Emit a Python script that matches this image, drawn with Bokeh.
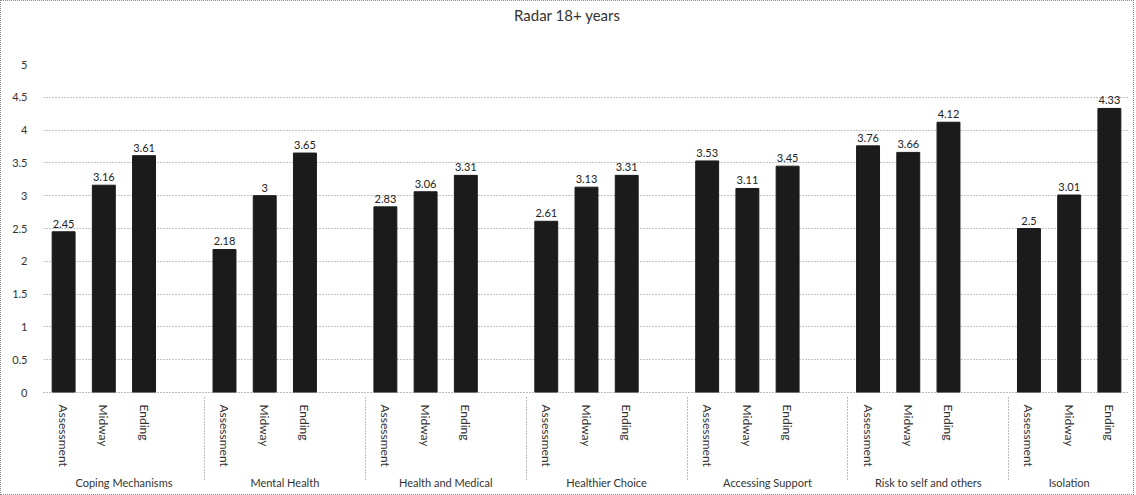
from bokeh.plotting import figure
from bokeh.models import FactorRange, ColumnDataSource, Div
from bokeh.layouts import column
from bokeh.core.properties import value
from bokeh.embed import file_html
from bokeh.resources import INLINE

title = "Radar 18+ years"
groups = ["Coping Mechanisms", "Mental Health", "Health and Medical",
          "Healthier Choice", "Accessing Support", "Risk to self and others", "Isolation"]
stages = ["Assessment", "Midway", "Ending"]
assessment = [2.45, 2.18, 2.83, 2.61, 3.53, 3.76, 2.5]
midway = [3.16, 3.0, 3.06, 3.13, 3.11, 3.66, 3.01]
ending = [3.61, 3.65, 3.31, 3.31, 3.45, 4.12, 4.33]
y_ticks = [0, 0.5, 1, 1.5, 2, 2.5, 3, 3.5, 4, 4.5, 5]

FONT = "Lato"

factors = []
for i, g in enumerate(groups):
    for s in stages:
        factors.append((g, s))
    if i < len(groups) - 1:
        factors.append((g, " "))

xs, ys, labels = [], [], []
series = [assessment, midway, ending]
for i, g in enumerate(groups):
    for s, vals in zip(stages, series):
        xs.append((g, s))
        ys.append(vals[i])
        labels.append("%g" % vals[i])

src = ColumnDataSource(data=dict(x=xs, y=ys, label=labels))

p = figure(width=1132, height=465, output_backend="svg", toolbar_location=None,
           x_range=FactorRange(factors=factors, group_padding=0, factor_padding=0,
                               subgroup_padding=0, range_padding=0),
           y_range=(0, 5),
           min_border_left=42, min_border_right=4, min_border_top=35, min_border_bottom=102)

p.vbar(x="x", top="y", width=0.57, source=src, fill_color="#1b1b1b", line_color="#1b1b1b")
p.text(x="x", y="y", text="label", source=src, y_offset=-4, text_align="center",
       text_baseline="bottom", text_font=value(FONT), text_font_size="11px", text_color="#222222")

p.outline_line_color = None
p.xgrid.visible = False
p.ygrid.grid_line_color = "#8a8a8a"
p.ygrid.grid_line_dash = "1 2"
p.ygrid.grid_line_width = 1

p.yaxis.ticker = y_ticks
p.yaxis.major_label_overrides = {t: "%g" % t for t in y_ticks}
p.yaxis.axis_line_color = None
p.yaxis.major_tick_line_color = None
p.yaxis.minor_tick_line_color = None
p.yaxis.major_label_standoff = 10
p.yaxis.major_label_text_font = FONT
p.yaxis.major_label_text_font_size = "11px"
p.yaxis.major_label_text_color = "#333333"

p.xaxis.axis_line_color = "#777777"
p.xaxis.axis_line_dash = "1 2"
p.xaxis.major_tick_line_color = None
p.xaxis.minor_tick_line_color = None
p.xaxis.major_label_orientation = "vertical"
p.xaxis.major_label_standoff = 6
p.xaxis.major_label_text_font = FONT
p.xaxis.major_label_text_font_size = "12px"
p.xaxis.major_label_text_color = "#333333"
p.xaxis.group_text_font = FONT
p.xaxis.group_text_font_size = "11px"
p.xaxis.group_text_color = "#333333"
p.xaxis.group_text_font_style = "normal"
p.xaxis.group_label_orientation = "horizontal"
p.xaxis.separator_line_color = "#777777"
p.xaxis.separator_line_dash = "1 2"
p.xaxis.separator_line_width = 1

head = Div(text='<div style="width:1132px;text-align:center;font-family:Lato;font-size:15px;'
                'color:#333333;padding-top:5px;line-height:18px;">' + title + '</div>',
           width=1132, height=28, margin=0)

layout = column(head, p, spacing=0, styles={"border": "1px dotted #888888"})

open("out.html", "w").write(file_html(layout, INLINE))
